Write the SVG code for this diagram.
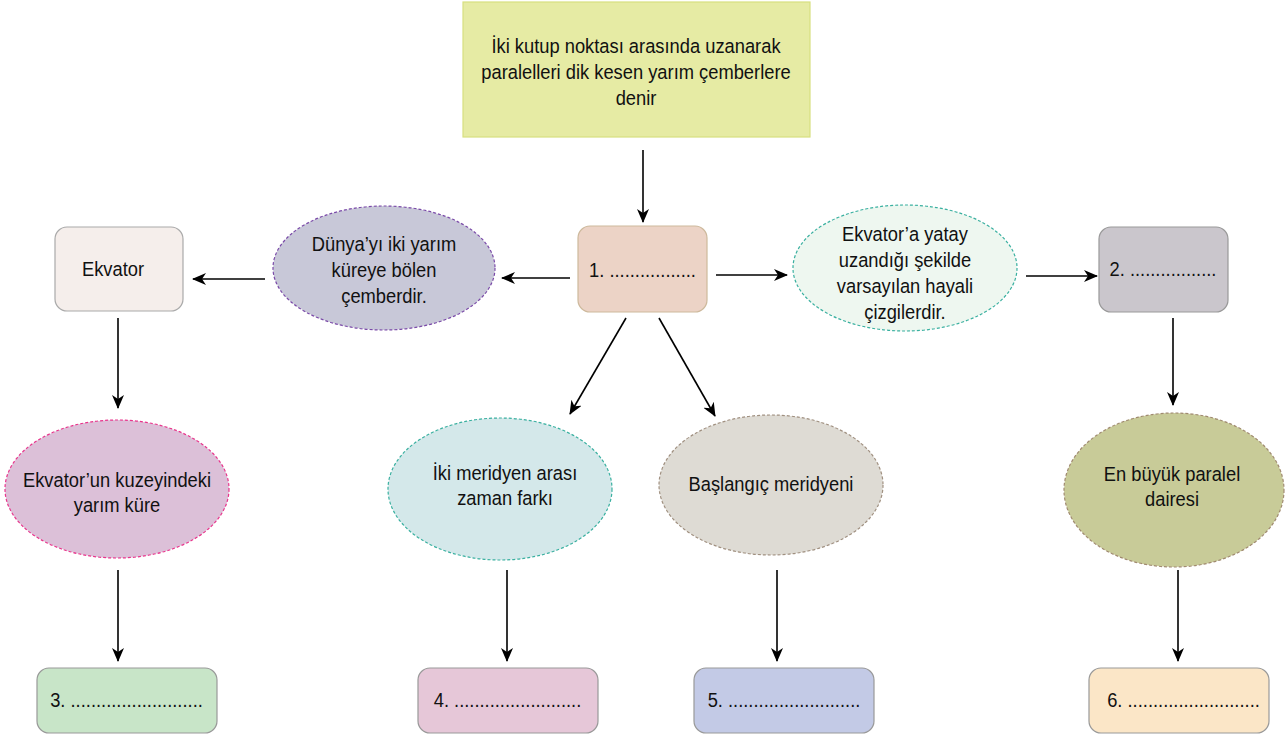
<svg xmlns="http://www.w3.org/2000/svg" width="1285" height="738" viewBox="0 0 1285 738">
<defs>
<marker id="ah" markerWidth="14" markerHeight="12" refX="13" refY="6" orient="auto" markerUnits="userSpaceOnUse">
<path d="M0,0 L14,6 L0,12 L4,6 Z" fill="#000"/>
</marker>
<style>
text{font-family:"Liberation Sans",Arial,sans-serif;font-size:19.5px;fill:#111;text-anchor:middle;transform-box:fill-box;transform-origin:center;transform:scaleX(0.94);}
.box{stroke-width:1.2;}
.ell{stroke-width:1.2;stroke-dasharray:3 2;}
.conn line{stroke:#000;stroke-width:1.6;marker-end:url(#ah);}
</style>
</defs>
<rect width="1285" height="738" fill="#fff"/>
<g id="top">
<rect x="463" y="2" width="347" height="135" fill="#e6eba4" stroke="#d8df80" class="box"/>
<text x="636" y="53">İki kutup noktası arasında uzanarak</text>
<text x="636" y="79">paralelleri dik kesen yarım çemberlere</text>
<text x="636" y="105">denir</text>
</g>
<g id="n1">
<rect x="578" y="226" width="129" height="86" rx="12" fill="#ecd3c6" stroke="#cdb99c" class="box"/>
<text x="642.5" y="277">1. .................</text>
</g>
<g id="dunya">
<ellipse cx="384" cy="268" rx="111" ry="62" fill="#c8c8d8" stroke="#7a4aa8" class="ell"/>
<text x="384" y="251">Dünya’yı iki yarım</text>
<text x="384" y="277">küreye bölen</text>
<text x="384" y="303">çemberdir.</text>
</g>
<g id="ekvator">
<rect x="55" y="227" width="128" height="84" rx="12" fill="#f5eeeb" stroke="#aaaaaa" class="box"/>
<text x="113" y="276">Ekvator</text>
</g>
<g id="ekvatora">
<ellipse cx="905" cy="268" rx="112" ry="63" fill="#eef7f0" stroke="#3ab0a0" class="ell"/>
<text x="905" y="241.5">Ekvator’a yatay</text>
<text x="905" y="267.5">uzandığı şekilde</text>
<text x="905" y="293.5">varsayılan hayali</text>
<text x="905" y="319.5">çizgilerdir.</text>
</g>
<g id="n2">
<rect x="1099" y="227" width="129" height="85" rx="12" fill="#cac6cc" stroke="#999999" class="box"/>
<text x="1163" y="276">2. .................</text>
</g>
<g id="kuzey">
<ellipse cx="117" cy="489" rx="112" ry="69" fill="#dcc0d8" stroke="#e8358c" class="ell"/>
<text x="117" y="487">Ekvator’un kuzeyindeki</text>
<text x="117" y="512">yarım küre</text>
</g>
<g id="zaman">
<ellipse cx="500" cy="489" rx="112" ry="71" fill="#d4e8ea" stroke="#3ab0a0" class="ell"/>
<text x="505" y="480">İki meridyen arası</text>
<text x="505" y="505">zaman farkı</text>
</g>
<g id="baslangic">
<ellipse cx="771" cy="485" rx="112" ry="70" fill="#dedbd4" stroke="#a09080" class="ell"/>
<text x="771" y="491">Başlangıç meridyeni</text>
</g>
<g id="enbuyuk">
<ellipse cx="1174" cy="490" rx="110" ry="77" fill="#c8cb98" stroke="#a08a70" class="ell"/>
<text x="1172" y="481">En büyük paralel</text>
<text x="1172" y="506">dairesi</text>
</g>
<g id="n3">
<rect x="37" y="668" width="180" height="65" rx="12" fill="#c8e5c8" stroke="#999999" class="box"/>
<text x="126.5" y="707">3. ..........................</text>
</g>
<g id="n4">
<rect x="418" y="668" width="180" height="65" rx="12" fill="#e6c7d8" stroke="#999999" class="box"/>
<text x="507.5" y="707">4. .........................</text>
</g>
<g id="n5">
<rect x="694" y="668" width="180" height="65" rx="12" fill="#c3cae6" stroke="#999999" class="box"/>
<text x="784" y="707">5. ..........................</text>
</g>
<g id="n6">
<rect x="1089" y="668" width="180" height="65" rx="12" fill="#fbe6c7" stroke="#999999" class="box"/>
<text x="1183.5" y="707">6. ..........................</text>
</g>
<g id="connectors" class="conn">
<line x1="643" y1="150" x2="643" y2="222"/>
<line x1="570" y1="278" x2="502" y2="278"/>
<line x1="265" y1="279" x2="193" y2="279"/>
<line x1="716" y1="275" x2="787" y2="275"/>
<line x1="1026" y1="276" x2="1097" y2="276"/>
<line x1="1173" y1="318" x2="1173" y2="405"/>
<line x1="1178" y1="570" x2="1178" y2="661"/>
<line x1="118" y1="318" x2="118" y2="408"/>
<line x1="118" y1="570" x2="118" y2="661"/>
<line x1="626" y1="318" x2="570" y2="414"/>
<line x1="659" y1="318" x2="715" y2="416"/>
<line x1="507" y1="570" x2="507" y2="661"/>
<line x1="777" y1="570" x2="777" y2="661"/>
</g>
</svg>
